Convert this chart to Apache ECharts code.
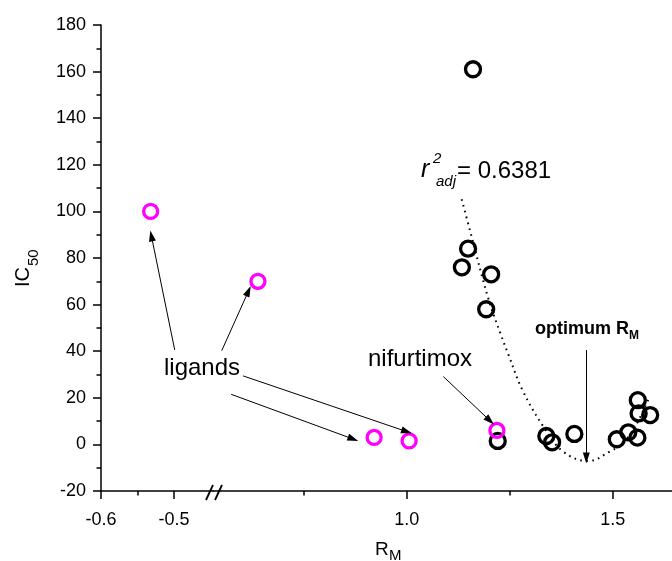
<!DOCTYPE html>
<html><head><meta charset="utf-8">
<script src="https://cdn.jsdelivr.net/npm/echarts@6/dist/echarts.min.js"></script>
<style>html,body{margin:0;padding:0;background:#fff}#c{width:672px;height:561px}</style>
</head><body><div id="c"></div>
<script>
// ---- data ----
const compoundsRM   = [1.161, 1.149, 1.134, 1.205, 1.193, 1.221, 1.339, 1.353, 1.407, 1.510, 1.538, 1.560, 1.561, 1.563, 1.591];
const compoundsIC50 = [161,   84,    76,    73,    58,    1.5,   3.6,   0.9,   4.5,   2.2,   5.2,   2.9,   19,    13.3,  12.6];
const ligandsRM     = [-0.532, 0.639, 0.921, 1.006];
const ligandsIC50   = [100,    70,    3,     1.5];
const nifurtimoxRM  = [1.219];
const nifurtimoxIC50 = [6];
const fitRM   = [1.1335, 1.154, 1.198, 1.228, 1.247, 1.281, 1.332, 1.380, 1.441, 1.493, 1.518, 1.550, 1.586];
const fitIC50 = [105.2,  91.6,  62.7,  47.4,  38.5,  23.3,  7.6,   -3.1,  -7.1,  -3.1,  -0.3,  6.2,   19.1];
const xTicksLeft  = [-0.6, -0.5];
const xMinorLeft  = [-0.55];
const xTicksRight = [1.0, 1.5];
const xMinorRight = [0.75, 1.25];
const yMin = -20, yMax = 180, yStep = 20;
const leftRange  = [-0.6, -0.4466];
const rightRange = [0.5299, 1.644];
// annotation arrows: [fromRM, fromIC50, toRM, toIC50]
const ligandArrowsLeft  = [[-0.499, 40.5, -0.531, 89.5]];
const ligandArrowsRight = [[0.551, 40.2, 0.616, 65.8], [0.603, 29.4, 1.000, 5.5], [0.574, 21.5, 0.870, 2.3]];
const nifurtimoxArrow = [1.089, 29.1, 1.202, 10.2];
const optimumArrow    = [1.436, 40.5, 1.436, -5.8];

// ---- build ----
const FONT = "'Liberation Sans', Arial, Helvetica, sans-serif";
const compounds = compoundsRM.map((x, i) => [x, compoundsIC50[i]]);
const ligands = ligandsRM.map((x, i) => [x, ligandsIC50[i]]);
const magentaLeft = ligands.filter(p => p[0] <= leftRange[1]);
const magentaRight = ligands.filter(p => p[0] >= rightRange[0]).concat(nifurtimoxRM.map((x, i) => [x, nifurtimoxIC50[i]]));
const fit = fitRM.map((x, i) => [x, fitIC50[i]]);
const toLine = a => [{coord: [a[0], a[1]]}, {coord: [a[2], a[3]]}];

const axisLine = {show: true, onZero: false, lineStyle: {color: '#000', width: 1.5}};
const noLine = {show: false, onZero: false};
const labelStyle = {color: '#000', fontSize: 18, fontFamily: FONT};
const fmt = v => Number(v).toFixed(1);

const arrowML = (lines) => ({
  silent: true, animation: false,
  symbol: ['none', 'triangle'], symbolSize: [7, 11],
  label: {show: false},
  lineStyle: {color: '#000', width: 1, type: 'solid', opacity: 1},
  itemStyle: {color: '#000', opacity: 1},
  emphasis: {disabled: true},
  data: lines.map(toLine)
});

const option = {
  animation: false,
  backgroundColor: '#fff',
  grid: [
    {left: 101, top: 25, width: 112, height: 466},
    {left: 213, top: 25, width: 459, height: 466}
  ],
  xAxis: [
    {gridIndex: 0, type: 'value', position: 'bottom', min: leftRange[0], max: leftRange[1],
      axisLine: axisLine, splitLine: {show: false},
      axisTick: {show: true, customValues: xTicksLeft, length: 8, lineStyle: {color: '#000', width: 1.5}},
      axisLabel: {show: true, customValues: xTicksLeft, formatter: fmt, margin: 20, ...labelStyle}},
    {gridIndex: 0, type: 'value', position: 'bottom', min: leftRange[0], max: leftRange[1],
      axisLine: noLine, splitLine: {show: false}, axisLabel: {show: false},
      axisTick: {show: true, customValues: xMinorLeft, length: 4.5, lineStyle: {color: '#000', width: 1.5}}},
    {gridIndex: 1, type: 'value', position: 'bottom', min: rightRange[0], max: rightRange[1],
      axisLine: axisLine, splitLine: {show: false},
      axisTick: {show: true, customValues: xTicksRight, length: 8, lineStyle: {color: '#000', width: 1.5}},
      axisLabel: {show: true, customValues: xTicksRight, formatter: fmt, margin: 20, ...labelStyle}},
    {gridIndex: 1, type: 'value', position: 'bottom', min: rightRange[0], max: rightRange[1],
      axisLine: noLine, splitLine: {show: false}, axisLabel: {show: false},
      axisTick: {show: true, customValues: xMinorRight, length: 4.5, lineStyle: {color: '#000', width: 1.5}}}
  ],
  yAxis: [
    {gridIndex: 0, type: 'value', min: yMin, max: yMax, interval: yStep,
      axisLine: axisLine, splitLine: {show: false},
      axisTick: {show: true, length: 8, lineStyle: {color: '#000', width: 1.5}},
      minorTick: {show: true, splitNumber: 2, length: 4.5, lineStyle: {color: '#000', width: 1.5}},
      axisLabel: {margin: 15, ...labelStyle}},
    {gridIndex: 1, type: 'value', min: yMin, max: yMax, interval: yStep, show: false}
  ],
  series: [
    {type: 'scatter', xAxisIndex: 2, yAxisIndex: 1, data: compounds, symbol: 'circle', symbolSize: 15,
      itemStyle: {color: 'rgba(0,0,0,0)', borderColor: '#000', borderWidth: 3.3, opacity: 1}, z: 3},
    {type: 'line', xAxisIndex: 2, yAxisIndex: 1, data: fit, smooth: 0.4, showSymbol: false, symbol: 'none',
      lineStyle: {color: '#000', width: 2, type: [1.6, 4.4]}, z: 2,
      markLine: arrowML([nifurtimoxArrow, optimumArrow])},
    {type: 'scatter', xAxisIndex: 0, yAxisIndex: 0, data: magentaLeft, symbol: 'circle', symbolSize: 14,
      itemStyle: {color: 'rgba(0,0,0,0)', borderColor: '#ff00ff', borderWidth: 3.3, opacity: 1}, z: 4,
      markLine: arrowML(ligandArrowsLeft)},
    {type: 'scatter', xAxisIndex: 2, yAxisIndex: 1, data: magentaRight, symbol: 'circle', symbolSize: 14,
      itemStyle: {color: 'rgba(0,0,0,0)', borderColor: '#ff00ff', borderWidth: 3.3, opacity: 1}, z: 4,
      markLine: arrowML(ligandArrowsRight)}
  ],
  graphic: [
    // axis break marks
    {type: 'line', shape: {x1: 206, y1: 500, x2: 213, y2: 485}, style: {stroke: '#000', lineWidth: 1.8}, z: 100},
    {type: 'line', shape: {x1: 215, y1: 500, x2: 222, y2: 485}, style: {stroke: '#000', lineWidth: 1.8}, z: 100},
    // y axis title IC50
    {type: 'group', x: 33, y: 287, rotation: Math.PI / 2, children: [
      {type: 'text', x: 0, y: 0, style: {text: 'IC', font: '20px ' + FONT, fill: '#000', align: 'left', verticalAlign: 'bottom'}},
      {type: 'text', x: 21, y: 8, style: {text: '50', font: '15px ' + FONT, fill: '#000', align: 'left', verticalAlign: 'bottom'}}
    ]},
    // x axis title RM
    {type: 'text', x: 375, y: 559, style: {text: 'R', font: '19px ' + FONT, fill: '#000', align: 'left', verticalAlign: 'bottom'}},
    {type: 'text', x: 389, y: 563, style: {text: 'M', font: '15px ' + FONT, fill: '#000', align: 'left', verticalAlign: 'bottom'}},
    // annotations
    {type: 'text', x: 164, y: 380, style: {text: 'ligands', font: '24px ' + FONT, fill: '#000', align: 'left', verticalAlign: 'bottom'}},
    {type: 'text', x: 368, y: 371, style: {text: 'nifurtimox', font: '24px ' + FONT, fill: '#000', align: 'left', verticalAlign: 'bottom'}},
    {type: 'text', x: 421, y: 183, style: {text: 'r', font: 'italic 25px ' + FONT, fill: '#000', align: 'left', verticalAlign: 'bottom'}},
    {type: 'text', x: 433, y: 166, style: {text: '2', font: 'italic 15px ' + FONT, fill: '#000', align: 'left', verticalAlign: 'bottom'}},
    {type: 'text', x: 436, y: 189, style: {text: 'adj', font: 'italic 15px ' + FONT, fill: '#000', align: 'left', verticalAlign: 'bottom'}},
    {type: 'text', x: 457, y: 183, style: {text: '= 0.6381', font: '24px ' + FONT, fill: '#000', align: 'left', verticalAlign: 'bottom'}},
    {type: 'text', x: 535, y: 338, style: {text: 'optimum R', font: 'bold 18px ' + FONT, fill: '#000', align: 'left', verticalAlign: 'bottom'}},
    {type: 'text', x: 629, y: 342, style: {text: 'M', font: 'bold 12px ' + FONT, fill: '#000', align: 'left', verticalAlign: 'bottom'}}
  ]
};
const chart = echarts.init(document.getElementById('c'));
chart.setOption(option);
</script></body></html>
